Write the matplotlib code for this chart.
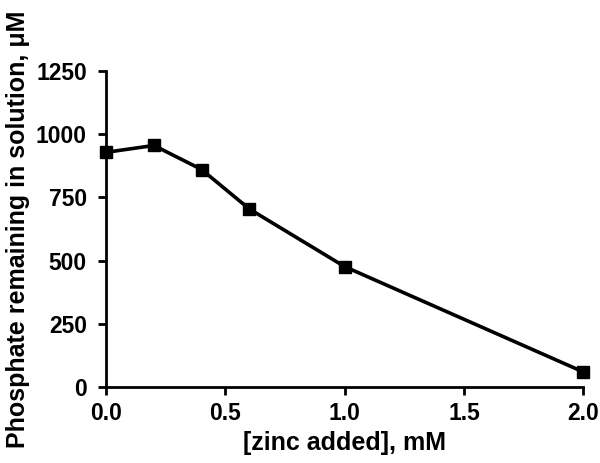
import matplotlib
matplotlib.use("Agg")
import matplotlib.pyplot as plt

zinc_mM = [0.0, 0.2, 0.4, 0.6, 1.0, 2.0]
phosphate_uM = [928, 955, 860, 704, 476, 60]
x_ticks = [0.0, 0.5, 1.0, 1.5, 2.0]
y_ticks = [0, 250, 500, 750, 1000, 1250]

plt.rcParams["font.family"] = ["Liberation Sans", "DejaVu Sans"]
plt.rcParams["font.weight"] = "bold"

fig = plt.figure(figsize=(6, 4.63), dpi=100)
ax = fig.add_axes([0.177, 0.164, 0.795, 0.683])

ax.plot(zinc_mM, phosphate_uM, color="black", linewidth=2.6, marker="s",
        markersize=9, clip_on=False, zorder=3)

ax.set_xlim(0, 2.0)
ax.set_ylim(0, 1250)
ax.set_xticks(x_ticks)
ax.set_xticklabels([f"{t:.1f}" for t in x_ticks])
ax.set_yticks(y_ticks)

for side in ["top", "right"]:
    ax.spines[side].set_visible(False)
for side in ["left", "bottom"]:
    ax.spines[side].set_linewidth(2)
ax.tick_params(width=2, length=6, labelsize=16.5)
ax.tick_params(axis="y", pad=8)
ax.tick_params(axis="x", pad=5)
for lab in ax.get_xticklabels() + ax.get_yticklabels():
    lab.set_fontweight("bold")

ax.set_xlabel("[zinc added], mM", fontsize=18, fontweight="bold", labelpad=4)
ax.set_ylabel("Phosphate remaining in solution, \u03bcM", fontsize=18,
              fontweight="bold", labelpad=4)

fig.savefig("out.png", dpi=100)
